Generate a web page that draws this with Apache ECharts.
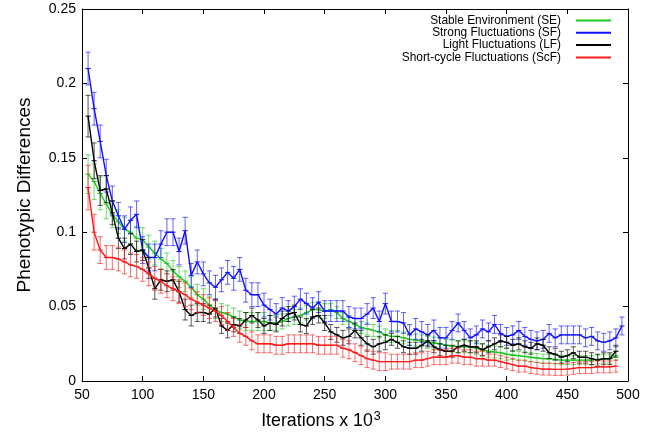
<!DOCTYPE html>
<html>
<head>
<meta charset="utf-8">
<script src="https://cdn.jsdelivr.net/npm/echarts@6/dist/echarts.min.js"></script>
<style>
html,body{margin:0;padding:0;background:#fff;}
#chart{width:655px;height:436px;}
</style>
</head>
<body>
<div id="chart"></div>
<script>
// ---- data (x in thousands of iterations) ----
const iterations = [55,60,65,70,75,80,85,90,95,100,105,110,115,120,125,130,135,140,145,150,155,160,165,170,175,180,185,190,195,200,205,210,215,220,225,230,235,240,245,250,255,260,265,270,275,280,285,290,295,300,305,310,315,320,325,330,335,340,345,350,355,360,365,370,375,380,385,390,395,400,405,410,415,420,425,430,435,440,445,450,455,460,465,470,475,480,485,490];
const iterationsSF = [55,60,65,70,75,80,85,90,95,100,105,110,115,120,125,130,135,140,145,150,155,160,165,170,175,180,185,190,195,200,205,210,215,220,225,230,235,240,245,250,255,260,265,270,275,280,285,290,295,300,305,310,315,320,325,330,335,340,345,350,355,360,365,370,375,380,385,390,395,400,405,410,415,420,425,430,435,440,445,450,455,460,465,470,475,480,485,490,495];

const seriesNames = ['Stable Environment (SE)','Strong Fluctuations (SF)','Light Fluctuations (LF)','Short-cycle Fluctuations (ScF)'];

const valuesSE = [0.139,0.134,0.126,0.119,0.112,0.107,0.102,0.100,0.096,0.095,0.090,0.086,0.082,0.079,0.074,0.070,0.067,0.063,0.058,0.055,0.051,0.048,0.046,0.045,0.043,0.041,0.040,0.040,0.040,0.040,0.039,0.039,0.040,0.042,0.043,0.044,0.046,0.048,0.048,0.047,0.048,0.046,0.042,0.040,0.038,0.036,0.035,0.034,0.033,0.031,0.030,0.030,0.029,0.028,0.0275,0.027,0.026,0.0255,0.025,0.024,0.0235,0.023,0.023,0.023,0.022,0.021,0.020,0.0195,0.019,0.018,0.0175,0.017,0.0165,0.016,0.0155,0.015,0.015,0.0145,0.014,0.014,0.014,0.014,0.014,0.014,0.0145,0.015,0.015,0.017];
const errorsSE = [0.013,0.012,0.011,0.010,0.009,0.008,0.008,0.008,0.008,0.008,0.008,0.008,0.007,0.007,0.007,0.007,0.007,0.007,0.007,0.007,0.006,0.006,0.006,0.006,0.006,0.006,0.006,0.006,0.006,0.006,0.005,0.005,0.005,0.005,0.005,0.005,0.005,0.005,0.005,0.005,0.004,0.004,0.004,0.004,0.004,0.004,0.004,0.004,0.004,0.004,0.004,0.004,0.004,0.004,0.004,0.004,0.004,0.004,0.004,0.004,0.004,0.004,0.004,0.004,0.004,0.004,0.004,0.004,0.004,0.004,0.003,0.003,0.003,0.003,0.003,0.003,0.003,0.003,0.003,0.003,0.003,0.003,0.003,0.003,0.003,0.003,0.003,0.003];

const valuesSF = [0.210,0.183,0.161,0.138,0.121,0.111,0.102,0.108,0.112,0.088,0.083,0.083,0.092,0.100,0.100,0.087,0.101,0.071,0.080,0.072,0.066,0.063,0.068,0.073,0.069,0.075,0.061,0.058,0.058,0.051,0.048,0.045,0.049,0.047,0.050,0.055,0.052,0.049,0.053,0.047,0.047,0.047,0.047,0.043,0.042,0.042,0.045,0.049,0.040,0.052,0.040,0.040,0.039,0.031,0.035,0.033,0.031,0.034,0.029,0.029,0.034,0.039,0.034,0.029,0.031,0.035,0.033,0.038,0.032,0.030,0.031,0.034,0.030,0.028,0.027,0.028,0.032,0.029,0.031,0.031,0.031,0.031,0.029,0.030,0.027,0.026,0.027,0.029,0.037];
const errorsSF = [0.011,0.011,0.011,0.011,0.010,0.009,0.009,0.009,0.009,0.009,0.009,0.009,0.009,0.009,0.009,0.009,0.009,0.008,0.008,0.008,0.008,0.008,0.008,0.008,0.008,0.008,0.008,0.008,0.008,0.008,0.007,0.007,0.007,0.007,0.007,0.007,0.007,0.007,0.007,0.007,0.007,0.007,0.007,0.007,0.007,0.007,0.007,0.007,0.007,0.007,0.007,0.007,0.007,0.007,0.007,0.007,0.007,0.007,0.007,0.007,0.006,0.006,0.006,0.006,0.006,0.006,0.006,0.006,0.006,0.006,0.006,0.006,0.006,0.006,0.006,0.006,0.006,0.006,0.006,0.006,0.006,0.006,0.006,0.006,0.006,0.006,0.006,0.006,0.006];

const valuesLF = [0.178,0.148,0.128,0.129,0.113,0.096,0.089,0.092,0.087,0.088,0.076,0.062,0.068,0.067,0.068,0.060,0.048,0.044,0.046,0.046,0.045,0.049,0.037,0.034,0.038,0.037,0.041,0.044,0.041,0.037,0.039,0.038,0.042,0.045,0.046,0.038,0.037,0.043,0.044,0.039,0.033,0.031,0.029,0.030,0.034,0.029,0.025,0.023,0.025,0.026,0.028,0.026,0.023,0.022,0.022,0.024,0.027,0.023,0.021,0.020,0.020,0.023,0.024,0.023,0.023,0.021,0.023,0.025,0.027,0.026,0.024,0.025,0.023,0.022,0.025,0.024,0.019,0.018,0.016,0.017,0.019,0.016,0.016,0.015,0.014,0.015,0.015,0.020];
const errorsLF = [0.014,0.012,0.010,0.009,0.008,0.007,0.007,0.007,0.007,0.007,0.007,0.007,0.007,0.007,0.007,0.007,0.007,0.007,0.006,0.006,0.006,0.006,0.005,0.005,0.005,0.005,0.005,0.005,0.005,0.005,0.005,0.005,0.005,0.005,0.005,0.005,0.005,0.005,0.005,0.005,0.005,0.005,0.005,0.005,0.005,0.005,0.005,0.005,0.005,0.005,0.004,0.004,0.004,0.004,0.004,0.004,0.004,0.004,0.004,0.004,0.004,0.004,0.004,0.004,0.004,0.004,0.004,0.004,0.004,0.004,0.004,0.004,0.004,0.004,0.004,0.004,0.004,0.004,0.004,0.004,0.004,0.004,0.004,0.004,0.004,0.004,0.004,0.004];

const valuesScF = [0.130,0.100,0.088,0.083,0.083,0.082,0.080,0.078,0.077,0.075,0.072,0.069,0.067,0.064,0.062,0.060,0.058,0.055,0.053,0.051,0.049,0.047,0.044,0.040,0.036,0.032,0.030,0.027,0.025,0.025,0.025,0.024,0.024,0.025,0.025,0.025,0.025,0.025,0.024,0.024,0.024,0.024,0.022,0.021,0.019,0.017,0.015,0.014,0.013,0.013,0.013,0.013,0.013,0.013,0.014,0.014,0.015,0.016,0.016,0.016,0.017,0.017,0.016,0.016,0.015,0.015,0.014,0.014,0.013,0.012,0.011,0.010,0.010,0.009,0.0085,0.008,0.008,0.0078,0.0078,0.008,0.0085,0.009,0.009,0.009,0.0095,0.0095,0.0095,0.010];
const errorsScF = [0.015,0.012,0.009,0.008,0.008,0.008,0.008,0.008,0.008,0.008,0.008,0.008,0.008,0.008,0.008,0.008,0.008,0.007,0.007,0.007,0.007,0.007,0.006,0.006,0.006,0.006,0.006,0.006,0.006,0.006,0.006,0.006,0.006,0.006,0.006,0.006,0.006,0.006,0.006,0.006,0.006,0.006,0.006,0.006,0.006,0.006,0.006,0.006,0.006,0.006,0.005,0.005,0.005,0.005,0.005,0.005,0.005,0.005,0.005,0.005,0.005,0.005,0.005,0.005,0.005,0.005,0.004,0.004,0.004,0.004,0.004,0.004,0.004,0.004,0.004,0.004,0.004,0.004,0.004,0.004,0.004,0.004,0.004,0.004,0.004,0.004,0.004,0.004];

const seriesColors = ['#1ec81e','#1010ff','#000000','#ff1a1a'];
const xTickLabels = ['50','100','150','200','250','300','350','400','450','500'];
const yTickLabels = ['0','0.05','0.1','0.15','0.2','0.25'];

// ---- build ----
const FONT = 'Liberation Sans, Arial, Helvetica, sans-serif';
const groups = [
  [iterations, valuesSE, errorsSE],
  [iterationsSF, valuesSF, errorsSF],
  [iterations, valuesLF, errorsLF],
  [iterations, valuesScF, errorsScF]
];

const series = [];
groups.forEach((g, k) => {
  const [xs, ys, es] = g;
  const color = seriesColors[k];
  series.push({
    type: 'custom',
    name: seriesNames[k] + ' err',
    xAxisIndex: 0, yAxisIndex: 0,
    z: 2 + k * 2,
    silent: true,
    data: xs.map((x, i) => [x, ys[i] - es[i], ys[i] + es[i], ys[i]]),
    encode: { x: 0, y: [1, 2] },
    renderItem: function (params, api) {
      const x = api.value(0);
      const lo = api.coord([x, api.value(1)]);
      const hi = api.coord([x, api.value(2)]);
      const md = api.coord([x, api.value(3)]);
      const w = 2.6;
      const st = { stroke: color, lineWidth: 1, opacity: 0.65 };
      return {
        type: 'group',
        children: [
          { type: 'line', shape: { x1: lo[0], y1: lo[1], x2: hi[0], y2: hi[1] }, style: st },
          { type: 'line', shape: { x1: lo[0] - w, y1: lo[1], x2: lo[0] + w, y2: lo[1] }, style: st },
          { type: 'line', shape: { x1: hi[0] - w, y1: hi[1], x2: hi[0] + w, y2: hi[1] }, style: st },
          { type: 'line', shape: { x1: md[0] - w, y1: md[1], x2: md[0] + w, y2: md[1] }, style: { stroke: color, lineWidth: 1 } }
        ]
      };
    }
  });
  series.push({
    type: 'line',
    name: seriesNames[k],
    xAxisIndex: 0, yAxisIndex: 0,
    z: 3 + k * 2,
    data: xs.map((x, i) => [x, ys[i]]),
    showSymbol: false,
    symbol: 'none',
    lineStyle: { color: color, width: 1.4 },
    itemStyle: { color: color },
    animation: false
  });
});

const legends = seriesNames.map((n, k) => ({
  data: [n],
  orient: 'vertical',
  right: 44,
  top: 14.5 + k * 12.3,
  align: 'right',
  icon: 'rect',
  itemWidth: 35,
  itemHeight: 2,
  itemGap: 0,
  padding: 0,
  selectedMode: false,
  textStyle: { fontFamily: FONT, fontSize: 11.9, color: '#000', padding: [0, 10, 0, 0] }
}));

const axisCommon = {
  type: 'value',
  splitLine: { show: false },
  axisLine: { show: true, onZero: false, lineStyle: { color: '#000', width: 1 } },
  axisTick: { show: true, inside: true, length: 5, lineStyle: { color: '#000', width: 1 } }
};

const option = {
  animation: false,
  backgroundColor: '#fff',
  grid: { left: 82, right: 27, top: 9, bottom: 55 },
  legend: legends,
  xAxis: [
    Object.assign({}, axisCommon, {
      position: 'bottom', min: 50, max: 500, interval: 50,
      axisLabel: { fontFamily: FONT, fontSize: 14, color: '#000', margin: 7,
        formatter: v => xTickLabels[Math.round((v - 50) / 50)] },
      name: '{a|Iterations x 10}{s|3}',
      nameLocation: 'middle', nameGap: 29,
      nameTextStyle: { padding: [0, 68, 0, 0], rich: {
        a: { fontFamily: FONT, fontSize: 17.8, color: '#000' },
        s: { fontFamily: FONT, fontSize: 12.5, color: '#000', verticalAlign: 'top', padding: [0, 0, 10, 1] }
      } }
    }),
    Object.assign({}, axisCommon, {
      position: 'top', min: 50, max: 500, interval: 50,
      axisLabel: { show: false }
    })
  ],
  yAxis: [
    Object.assign({}, axisCommon, {
      position: 'left', min: 0, max: 0.25, interval: 0.05,
      axisLabel: { fontFamily: FONT, fontSize: 14, color: '#000', margin: 6,
        formatter: v => yTickLabels[Math.round(v / 0.05)] },
      name: 'Phenotypic Differences',
      nameLocation: 'middle', nameGap: 48,
      nameTextStyle: { fontFamily: FONT, fontSize: 19, color: '#000' }
    }),
    Object.assign({}, axisCommon, {
      position: 'right', min: 0, max: 0.25, interval: 0.05,
      axisLabel: { show: false }
    })
  ],
  series: series
};

const chart = echarts.init(document.getElementById('chart'), null, { renderer: 'canvas' });
chart.setOption(option);
</script>
</body>
</html>
